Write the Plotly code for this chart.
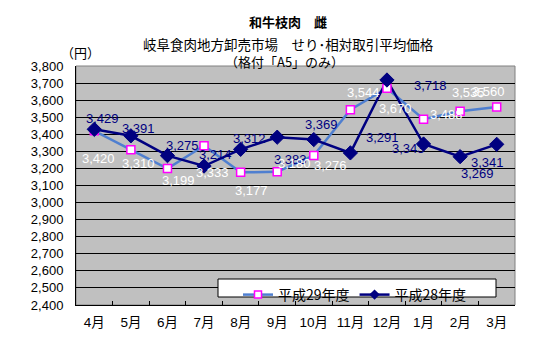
import plotly.graph_objects as go

months = ["4月", "5月", "6月", "7月", "8月", "9月", "10月", "11月", "12月", "1月", "2月", "3月"]
h29 = [3420, 3310, 3199, 3333, 3177, 3180, 3276, 3544, 3670, 3488, 3535, 3560]
h28 = [3429, 3391, 3275, 3214, 3312, 3383, 3369, 3291, 3718, 3343, 3269, 3341]
name29 = "平成29年度"
name28 = "平成28年度"
y_ticks = list(range(2400, 3801, 100))

# label offsets in pixels (dx right, dy down)
off28 = [(8, -11), (8, -7), (15, -10), (11, -12), (9, -11), (13, 22), (8, -15), (32, -15), (44, 5), (-15, 4), (17, 17), (-9, 18)]
off29 = [(4, 28), (8, 14), (11, 12), (8, 27), (11, 18), (17, -8), (17, 10), (13, -17), (9, 20), (23, -5), (8, -19), (-8, -15)]

NUMF = "Liberation Sans, Noto Sans CJK JP"
JPF = "Noto Sans CJK JP, Liberation Sans"
c29 = "#4F7FD0"
c28 = "#000080"

fig = go.Figure()
fig.add_trace(go.Scatter(x=months, y=h29, mode="lines", line=dict(color=c29, width=2.5), showlegend=False, hoverinfo="skip"))
fig.add_trace(go.Scatter(x=months, y=h28, mode="lines", line=dict(color=c28, width=2.5), showlegend=False, hoverinfo="skip"))
fig.add_trace(go.Scatter(x=months, y=h29, mode="markers", showlegend=False,
                         marker=dict(symbol="square", size=8, color="white", line=dict(color="#FF00FF", width=1.5))))
fig.add_trace(go.Scatter(x=months, y=h28, mode="markers", showlegend=False,
                         marker=dict(symbol="diamond", size=11, color=c28, line=dict(color=c28, width=1))))
fig.add_trace(go.Scatter(x=[None], y=[None], mode="lines+markers", name=name29,
                         line=dict(color=c29, width=2.5),
                         marker=dict(symbol="square", size=7, color="white", line=dict(color="#FF00FF", width=1.5))))
fig.add_trace(go.Scatter(x=[None], y=[None], mode="lines+markers", name=name28,
                         line=dict(color=c28, width=2.5),
                         marker=dict(symbol="diamond", size=8, color=c28)))

anns = []
for m, v, (dx, dy) in zip(months, h28, off28):
    anns.append(dict(x=m, y=v, xref="x", yref="y", text=f"{v:,}", showarrow=False,
                     xshift=dx, yshift=-dy, font=dict(family=NUMF, size=13, color=c28)))
for m, v, (dx, dy) in zip(months, h29, off29):
    anns.append(dict(x=m, y=v, xref="x", yref="y", text=f"{v:,}", showarrow=False,
                     xshift=dx, yshift=-dy, font=dict(family=NUMF, size=13, color="white")))

anns.append(dict(text="<b>和牛枝肉　雌</b>", x=288, y=22, showarrow=False,
                 font=dict(family=JPF, size=13, color="black")))
anns.append(dict(text="岐阜食肉地方卸売市場　せり･相対取引平均価格", x=288, y=44, showarrow=False,
                 font=dict(family=JPF, size=13.5, color="black")))
anns.append(dict(text="（格付「A5」のみ）", x=284, y=62, showarrow=False,
                 font=dict(family=JPF, size=13, color="black")))
anns.append(dict(text="（円）", x=80, y=53, showarrow=False,
                 font=dict(family=JPF, size=13, color="black")))

L, R, T, B = 76, 515, 66, 305
W, H = 550, 350
for a in anns[-4:]:
    px, py = a["x"], a["y"]
    a["xref"] = "paper"; a["yref"] = "paper"
    a["x"] = (px - L) / (R - L)
    a["y"] = (B - py) / (B - T)
    a["xanchor"] = "center"; a["yanchor"] = "middle"

fig.update_layout(
    width=W, height=H,
    margin=dict(l=L, r=W - R, t=T, b=H - B, pad=0),
    paper_bgcolor="white", plot_bgcolor="#C0C0C0",
    annotations=anns,
    showlegend=True,
    legend=dict(orientation="h", x=(238 - L) / (R - L), y=(B - 279) / (B - T), xanchor="left", yanchor="top",
                bgcolor="rgba(0,0,0,0)", borderwidth=0,
                font=dict(family=JPF, size=14, color="black"), itemwidth=30),
    shapes=[
        dict(type="rect", xref="paper", yref="paper", x0=0, x1=1, y0=0, y1=1,
             line=dict(color="#808080", width=1), layer="between"),
        dict(type="rect", xref="paper", yref="paper",
             x0=(218 - L) / (R - L), x1=(496 - L) / (R - L), y0=(B - 297) / (B - T), y1=(B - 279) / (B - T),
             line=dict(color="black", width=1), fillcolor="white", layer="above"),
    ],
)
fig.update_xaxes(type="category", range=[-0.5, 11.5], tickson="boundaries", ticks="inside", ticklen=4,
                 tickcolor="black", showline=True, linecolor="black", linewidth=1, showgrid=False,
                 tickangle=0, ticklabelstandoff=5,
                 tickfont=dict(family=NUMF, size=13.5, color="black"), fixedrange=True)
fig.update_yaxes(range=[2400, 3800], tickvals=y_ticks, ticktext=[f"{v:,}" for v in y_ticks],
                 showgrid=True, gridcolor="black", gridwidth=1, showline=True, linecolor="black", linewidth=1,
                 ticks="", ticklabelstandoff=9,
                 tickfont=dict(family=NUMF, size=13, color="black"), zeroline=False, fixedrange=True)

fig.write_html("out.html")
